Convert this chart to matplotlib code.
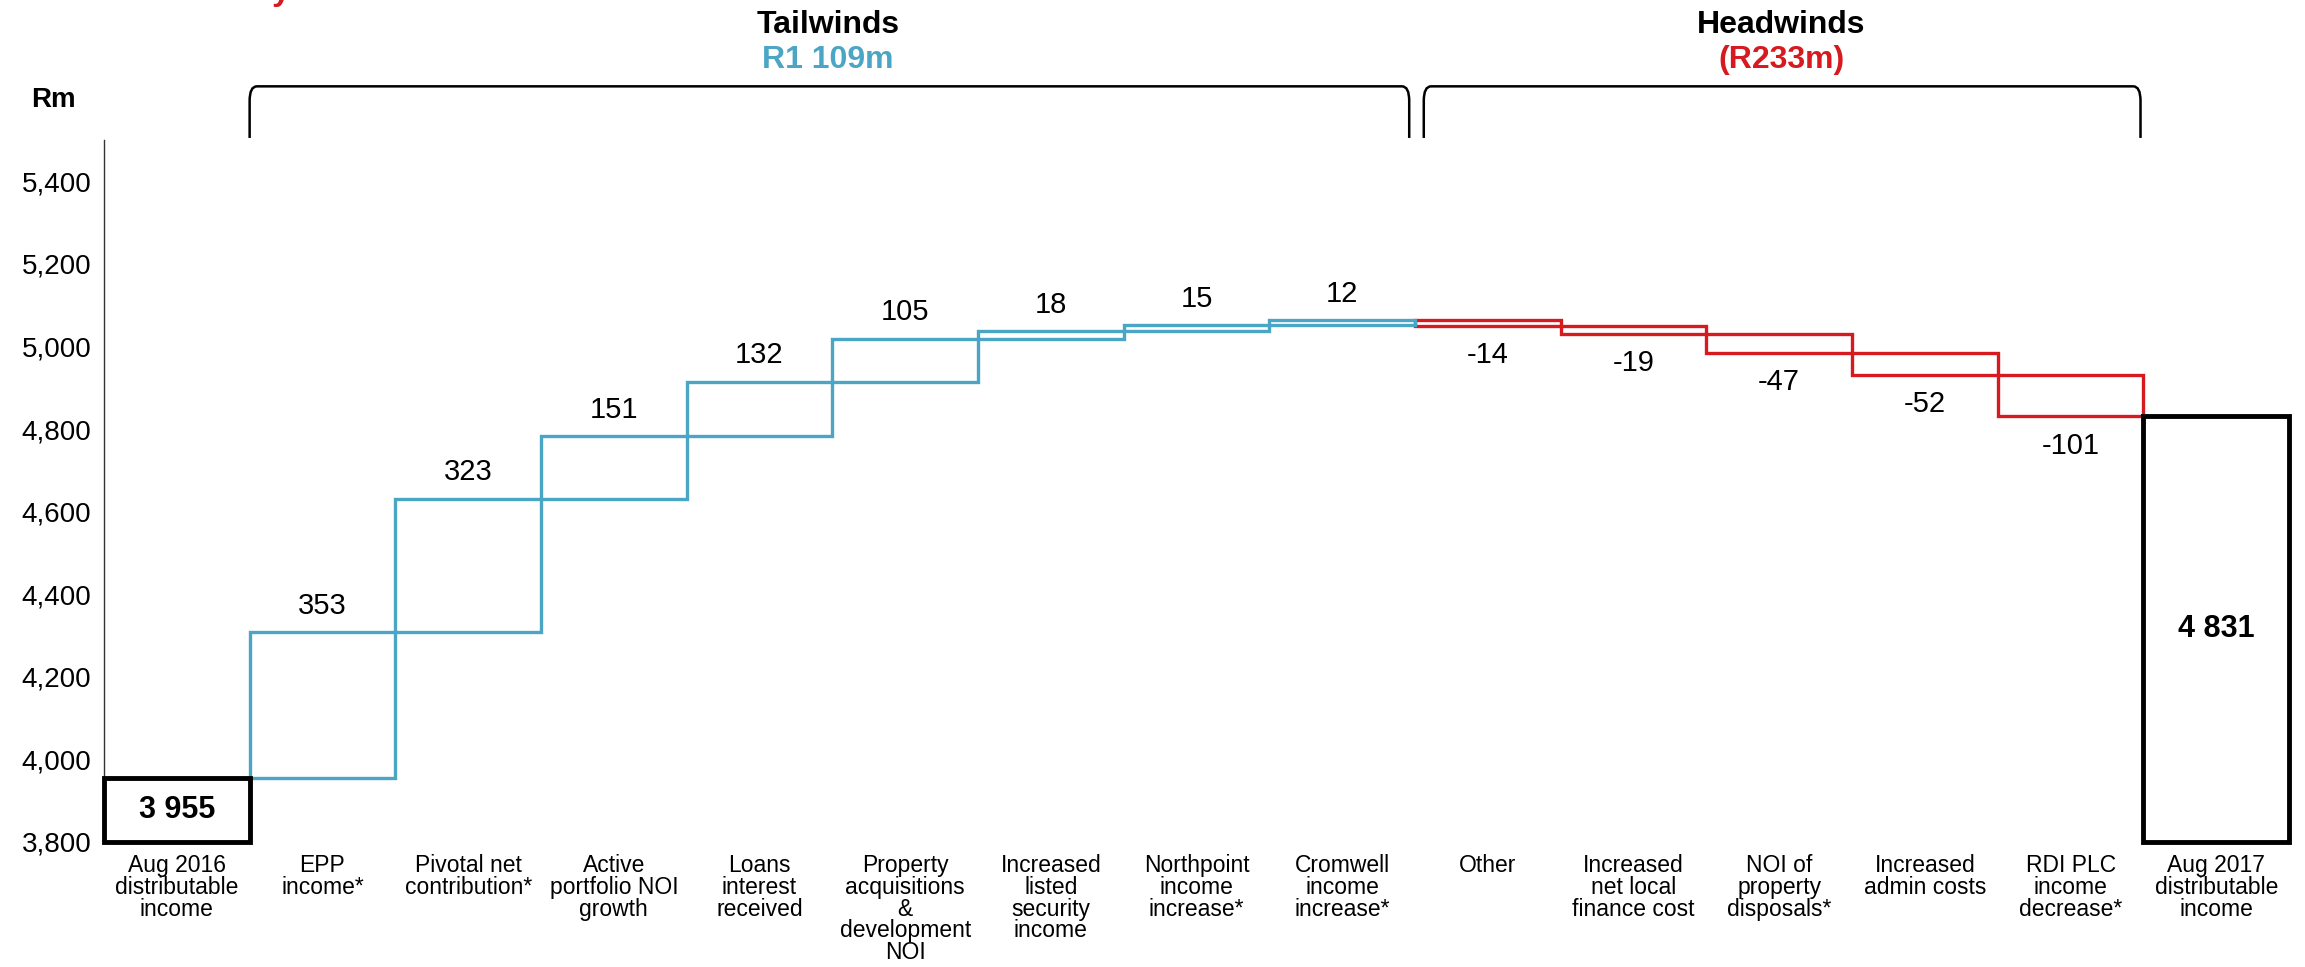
import matplotlib.pyplot as plt
from matplotlib.path import Path
from matplotlib.patches import PathPatch
import numpy as np

BLUE = "#4BA5C5"
RED = "#D71920"
NARROW = ["Liberation Sans Narrow", "Liberation Sans", "DejaVu Sans"]
REG = ["Liberation Sans", "DejaVu Sans"]

categories = ["Aug 2016\ndistributable\nincome", "EPP\nincome*", "Pivotal net\ncontribution*",
              "Active\nportfolio NOI\ngrowth", "Loans\ninterest\nreceived",
              "Property\nacquisitions\n&\ndevelopment\nNOI", "Increased\nlisted\nsecurity\nincome",
              "Northpoint\nincome\nincrease*", "Cromwell\nincome\nincrease*", "Other",
              "Increased\nnet local\nfinance cost", "NOI of\nproperty\ndisposals*",
              "Increased\nadmin costs", "RDI PLC\nincome\ndecrease*",
              "Aug 2017\ndistributable\nincome"]
start_value = 3955
changes = [353, 323, 151, 132, 105, 18, 15, 12, -14, -19, -47, -52, -101]
end_value = 4831
yticks = [3800, 4000, 4200, 4400, 4600, 4800, 5000, 5200, 5400]

plt.rcParams["font.family"] = REG

fig = plt.figure(figsize=(23.05, 9.67), dpi=100)
ax = fig.add_axes([0.0451, 0.1293, 0.948, 0.7259])

x = np.arange(len(categories))
base = 3800

# total bars
ax.bar([x[0], x[-1]], [start_value - base, end_value - base], bottom=base, width=1.0,
       fill=False, edgecolor="black", linewidth=3.5, zorder=4, clip_on=False)

# floating change bars
level = start_value
for i, c in enumerate(changes):
    xi = x[i + 1]
    col = BLUE if c > 0 else RED
    ax.bar(xi, c, bottom=level, width=1.0, fill=False, edgecolor=col,
           linewidth=2.4, zorder=3 if c > 0 else 2, clip_on=False)
    if c > 0:
        ax.annotate(f"{c}", (xi, level + c), xytext=(0, 9), textcoords="offset points",
                    ha="center", va="bottom", fontsize=21)
    else:
        ax.annotate(f"{c}", (xi, level + c), xytext=(0, -11), textcoords="offset points",
                    ha="center", va="top", fontsize=21)
    level += c

ax.text(x[0], (base + start_value) / 2, "3 955", ha="center", va="center",
        fontsize=22, fontweight="bold")
ax.text(x[-1], (base + end_value) / 2, "4 831", ha="center", va="center",
        fontsize=22, fontweight="bold")

ax.set_xlim(-0.5, len(categories) - 0.5)
ax.set_ylim(3800, 5500)
ax.set_yticks(yticks)
ax.set_yticklabels([f"{v:,}" for v in yticks], fontsize=20)
ax.set_xticks(x)
ax.set_xticklabels(categories, fontsize=16.5, family=NARROW, va="top")
for t in ax.get_xticklabels():
    t.set_linespacing(0.92)
ax.tick_params(axis="both", length=0)
ax.tick_params(axis="y", pad=9)
ax.tick_params(axis="x", pad=9)
for s in ["top", "right", "bottom"]:
    ax.spines[s].set_visible(False)
ax.spines["left"].set_linewidth(1.0)
ax.spines["left"].set_color("#333333")


def bracket(x0, x1, yb, yt):
    dx, dy = 0.05, 35
    verts = [(x0, yb), (x0, yt - dy), (x0, yt), (x0 + dx, yt),
             (x1 - dx, yt), (x1, yt), (x1, yt - dy), (x1, yb)]
    codes = [Path.MOVETO, Path.LINETO, Path.CURVE3, Path.CURVE3,
             Path.LINETO, Path.CURVE3, Path.CURVE3, Path.LINETO]
    ax.add_patch(PathPatch(Path(verts, codes), fill=False, edgecolor="black",
                           linewidth=1.8, clip_on=False))


bracket(0.5, 8.46, 5505, 5630)
bracket(8.56, 13.48, 5505, 5630)

fig.text(828 / 2305, 1 - 25 / 967, "Tailwinds", ha="center", va="center",
         fontsize=23, fontweight="bold", family=NARROW)
fig.text(828 / 2305, 1 - 60 / 967, "R1 109m", ha="center", va="center",
         fontsize=23, fontweight="bold", family=NARROW, color=BLUE)
fig.text(1781 / 2305, 1 - 25 / 967, "Headwinds", ha="center", va="center",
         fontsize=23, fontweight="bold", family=NARROW)
fig.text(1781 / 2305, 1 - 60 / 967, "(R233m)", ha="center", va="center",
         fontsize=23, fontweight="bold", family=NARROW, color=RED)
fig.text(53 / 2305, 1 - 100 / 967, "Rm", ha="center", va="center",
         fontsize=20, fontweight="bold")
# tail of a cut-off title line above the chart
fig.text(281 / 2305, 1.0, "y", ha="center", va="baseline",
         fontsize=24, fontweight="bold", color=RED)

fig.savefig("out.png", dpi=100)
